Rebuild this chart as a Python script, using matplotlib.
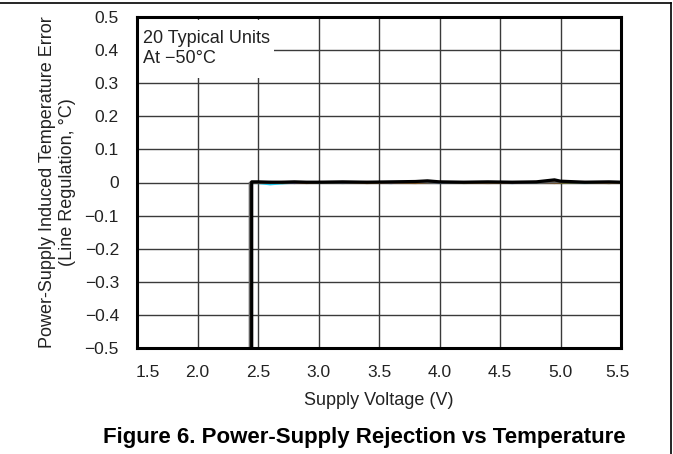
import matplotlib.pyplot as plt
from matplotlib.lines import Line2D
from matplotlib.patches import Rectangle
from matplotlib.transforms import ScaledTranslation

plt.rcParams['font.family'] = ['Liberation Sans', 'DejaVu Sans']

# supply voltage points after turn-on (V)
volts = [2.50, 2.60, 2.70, 2.80, 2.90, 3.00, 3.20, 3.40, 3.60, 3.80, 3.90,
         4.00, 4.20, 4.40, 4.60, 4.80, 4.95, 5.00, 5.20, 5.40, 5.50]

# turn-on voltage of each plotted unit, and the error below turn-on
turn_on = [2.440, 2.445, 2.442, 2.445, 2.447, 2.443, 2.430, 2.448]
below_err = -0.70

# line regulation error per unit (degC)
errors = [
    [0.001, -0.001, 0.000, 0.002, 0.001, 0.000, 0.001, -0.002, 0.000, 0.001, 0.002,
     0.000, -0.001, 0.001, 0.000, 0.002, 0.001, 0.000, -0.001, 0.001, 0.000],
    [-0.002, -0.006, -0.003, -0.001, 0.000, -0.002, 0.000, -0.001, -0.002, 0.000, -0.001,
     -0.002, 0.000, -0.001, -0.002, -0.001, 0.000, -0.001, -0.002, -0.001, 0.000],
    [0.000, 0.001, -0.002, -0.001, 0.001, 0.000, -0.002, 0.000, 0.001, -0.001, 0.000,
     0.001, -0.002, -0.001, 0.000, -0.001, 0.001, -0.002, -0.001, -0.002, -0.001],
    [-0.001, 0.002, 0.001, -0.002, 0.000, 0.001, -0.001, 0.000, -0.002, 0.001, 0.000,
     -0.001, 0.000, 0.001, -0.002, 0.000, -0.001, 0.001, 0.000, 0.001, 0.000],
    [0.002, 0.000, 0.002, 0.001, -0.001, 0.002, 0.001, 0.002, 0.001, 0.000, 0.001,
     0.002, 0.001, 0.000, 0.001, 0.002, 0.000, 0.001, 0.002, 0.000, 0.001],
    [-0.001, -0.002, 0.000, 0.000, -0.002, -0.001, 0.000, -0.002, -0.001, -0.002, -0.001,
     0.000, -0.001, -0.002, -0.001, 0.000, -0.002, -0.001, 0.000, -0.002, -0.001],
    [0.000, -0.001, 0.001, 0.000, 0.001, -0.001, 0.000, 0.001, 0.000, 0.001, 0.000,
     -0.001, 0.001, 0.000, 0.001, -0.001, 0.000, 0.001, 0.000, 0.000, 0.000],
    [0.002, 0.001, 0.001, 0.002, 0.001, 0.001, 0.002, 0.001, 0.002, 0.003, 0.005,
     0.002, 0.001, 0.002, 0.001, 0.002, 0.008, 0.004, 0.001, 0.002, 0.001],
]
unit_colors = ['#e08a1e', '#1ec8f0', '#2e8b3a', '#2040c0', '#c83020',
               '#7a5020', '#606060', 'black']
unit_widths = [1.3, 1.3, 1.3, 1.3, 1.3, 1.3, 1.2, 2.3]

fig = plt.figure(figsize=(6.73, 4.54), dpi=100)
ax = fig.add_axes([137 / 673, 1 - 348 / 454, 484 / 673, 331 / 454])

for v0, err, c, w in zip(turn_on, errors, unit_colors, unit_widths):
    xs = [v0, v0] + volts
    ys = [below_err, err[0]] + err
    ax.plot(xs, ys, color=c, lw=w, zorder=2)

ax.set_xlim(1.5, 5.5)
ax.set_ylim(-0.5, 0.5)
ax.set_xticks([1.5, 2.0, 2.5, 3.0, 3.5, 4.0, 4.5, 5.0, 5.5])
ax.set_xticklabels(['1.5', '2.0', '2.5', '3.0', '3.5', '4.0', '4.5', '5.0', '5.5'])
ax.set_yticks([0.5, 0.4, 0.3, 0.2, 0.1, 0, -0.1, -0.2, -0.3, -0.4, -0.5])
ax.set_yticklabels(['0.5', '0.4', '0.3', '0.2', '0.1', '0', '\u22120.1', '\u22120.2',
                    '\u22120.3', '\u22120.4', '\u22120.5'])
ax.tick_params(length=0, labelsize=12.5, colors='#222222')
ax.tick_params(axis='y', pad=13)
ax.tick_params(axis='x', pad=12)
ax.set_axisbelow(True)
ax.grid(True, color='#3a3a3a', lw=1.0)
for s in ax.spines.values():
    s.set_linewidth(2.2)
    s.set_color('black')

# nudge the end tick labels inward like the original
xl = ax.get_xticklabels()
xl[0].set_transform(xl[0].get_transform() + ScaledTranslation(0.11, 0, fig.dpi_scale_trans))
xl[-1].set_transform(xl[-1].get_transform() + ScaledTranslation(-0.04, 0, fig.dpi_scale_trans))

ax.set_xlabel('Supply Voltage (V)', fontsize=13, color='#222222', labelpad=9)
ax.set_ylabel('Power-Supply Induced Temperature Error\n(Line Regulation, \u00b0C)',
              fontsize=13, color='#222222', labelpad=6, linespacing=1.25)

# annotation box
ax.add_patch(Rectangle((0.0, 0.816), 0.283, 0.176, transform=ax.transAxes,
                       facecolor='white', edgecolor='none', zorder=2.5))
ax.text(0.013, 0.905, '20 Typical Units\nAt \u221250\u00b0C', transform=ax.transAxes,
        fontsize=13, va='center', ha='left', linespacing=1.25, zorder=3, color='#222222')

fig.text(364 / 673, 1 - 437 / 454, 'Figure 6. Power-Supply Rejection vs Temperature',
         fontsize=16, fontweight='bold', ha='center', va='center')

# page frame lines
fig.add_artist(Line2D([0, 671 / 673], [1 - 3 / 454, 1 - 3 / 454], color='black', lw=1.2))
fig.add_artist(Line2D([671 / 673, 671 / 673], [1 - 3 / 454, 0], color='black', lw=1.2))

fig.savefig('out.png', dpi=100)
